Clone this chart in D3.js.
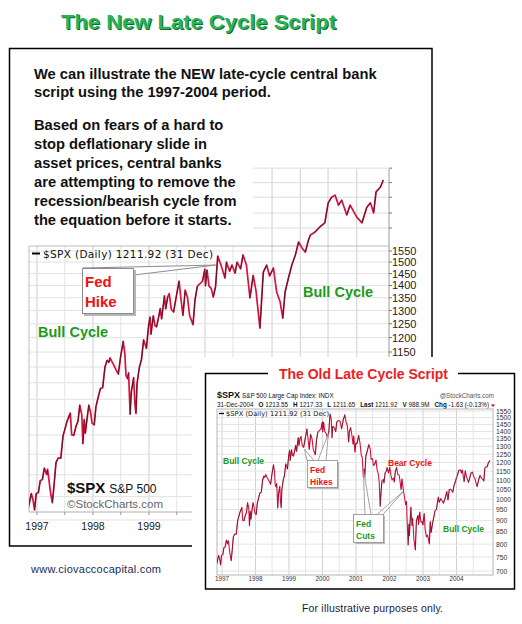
<!DOCTYPE html>
<html>
<head>
<meta charset="utf-8">
<script src="https://cdn.jsdelivr.net/npm/d3@7"></script>
<style>
  body { margin: 0; background: #fff; }
  text { font-family: "Liberation Sans", Arial, sans-serif; }
</style>
</head>
<body>
<svg id="chart" width="522" height="624"></svg>
<script>
// S&P 500 path, 1996-2004
const spxHistory = [
  ["1996-11-05",725],["1996-11-25",757],["1996-12-05",745],["1996-12-16",721],["1996-12-27",757],
  ["1997-01-10",759],["1997-01-22",786],["1997-02-05",789],["1997-02-18",816],["1997-03-05",801],["1997-03-11",813],["1997-03-31",757],["1997-04-11",737],["1997-04-22",775],["1997-05-05",830],["1997-05-20",841],["1997-06-05",840],["1997-06-20",898],["1997-07-03",917],["1997-07-15",936],["1997-08-06",960],["1997-08-15",900],["1997-08-29",899],["1997-09-12",923],["1997-09-25",937],["1997-10-07",983],["1997-10-20",955],["1997-10-27",877],["1997-11-05",942],["1997-11-12",905],["1997-11-25",950],["1997-12-05",983],["1997-12-16",963],["1997-12-26",932],
  ["1998-01-09",927],["1998-01-20",978],["1998-02-04",1006],["1998-02-18",1032],["1998-03-05",1035],["1998-03-20",1100],["1998-04-03",1122],["1998-04-14",1115],["1998-04-22",1130],["1998-05-01",1121],["1998-05-15",1108],["1998-06-01",1090],["1998-06-15",1077],["1998-06-30",1134],["1998-07-17",1187],["1998-07-27",1147],["1998-08-04",1073],["1998-08-14",1063],["1998-08-21",1081],["1998-08-31",957],["1998-09-08",1023],["1998-09-23",1066],["1998-10-01",986],["1998-10-08",959],["1998-10-15",1047],["1998-10-30",1099],["1998-11-13",1125],["1998-11-27",1192],["1998-12-07",1176],["1998-12-15",1162],["1998-12-29",1241],
  ["1999-01-08",1275],["1999-01-14",1212],["1999-01-29",1280],["1999-02-09",1243],["1999-02-19",1239],["1999-03-05",1275],["1999-03-15",1307],["1999-03-24",1268],["1999-04-12",1358],["1999-04-20",1306],["1999-05-03",1354],["1999-05-13",1367],["1999-05-26",1305],["1999-06-10",1294],["1999-06-22",1335],["1999-07-16",1418],["1999-07-29",1342],["1999-08-10",1281],["1999-08-25",1381],["1999-09-09",1351],["1999-09-23",1280],["1999-10-15",1247],["1999-10-28",1342],["1999-11-12",1396],["1999-11-23",1404],["1999-12-02",1409],["1999-12-16",1418],["1999-12-31",1469],
  ["2000-01-04",1399],["2000-01-14",1465],["2000-01-27",1398],["2000-02-11",1387],["2000-02-24",1353],["2000-03-10",1395],["2000-03-24",1527],["2000-04-06",1487],["2000-04-14",1357],["2000-04-21",1434],["2000-05-05",1432],["2000-05-24",1399],["2000-06-05",1467],["2000-06-20",1478],["2000-07-10",1475],["2000-07-28",1419],["2000-08-15",1484],["2000-09-01",1521],["2000-09-15",1466],["2000-09-29",1437],["2000-10-12",1329],["2000-10-20",1397],["2000-11-03",1427],["2000-11-15",1382],["2000-11-30",1315],["2000-12-07",1369],["2000-12-20",1264],["2000-12-29",1320],
  ["2001-01-12",1318],["2001-01-30",1373],["2001-02-14",1318],["2001-02-28",1240],["2001-03-09",1233],["2001-03-22",1117],["2001-03-30",1160],["2001-04-04",1103],["2001-04-18",1238],["2001-05-01",1266],["2001-05-21",1312],["2001-06-05",1283],["2001-06-14",1219],["2001-06-29",1224],["2001-07-10",1182],["2001-07-24",1191],["2001-08-07",1214],["2001-08-17",1161],["2001-08-31",1134],["2001-09-10",1092],["2001-09-21",966],["2001-10-01",1038],["2001-10-11",1097],["2001-10-26",1104],["2001-11-01",1084],["2001-11-15",1142],["2001-11-27",1149],["2001-12-05",1170],["2001-12-20",1140],
  ["2002-01-04",1172],["2002-01-16",1127],["2002-01-29",1100],["2002-02-12",1111],["2002-02-22",1090],["2002-03-05",1146],["2002-03-19",1170],["2002-04-02",1129],["2002-04-16",1128],["2002-04-30",1076],["2002-05-07",1050],["2002-05-17",1106],["2002-06-03",1040],["2002-06-14",1007],["2002-06-26",973],["2002-07-05",989],["2002-07-10",920],["2002-07-23",797],["2002-08-01",884],["2002-08-05",834],["2002-08-22",962],["2002-09-03",878],["2002-09-10",909],["2002-09-24",819],["2002-10-09",777],["2002-10-21",899],["2002-11-07",923],["2002-11-13",882],["2002-11-27",938],["2002-12-09",892],["2002-12-20",895],["2002-12-31",880],
  ["2003-01-14",931],["2003-01-24",861],["2003-02-07",829],["2003-02-20",837],["2003-03-11",801],["2003-03-21",895],["2003-03-31",848],["2003-04-14",885],["2003-04-30",917],["2003-05-12",945],["2003-05-27",951],["2003-06-17",1011],["2003-06-26",985],["2003-07-14",1003],["2003-07-31",990],["2003-08-11",980],["2003-08-28",1002],["2003-09-18",1039],["2003-09-30",996],["2003-10-14",1049],["2003-10-31",1051],["2003-11-21",1035],["2003-12-04",1069],["2003-12-19",1089],["2003-12-31",1112],
  ["2004-01-09",1121],["2004-01-26",1155],["2004-02-11",1157],["2004-02-24",1139],["2004-03-05",1156],["2004-03-24",1091],["2004-04-06",1151],["2004-04-19",1118],["2004-05-10",1087],["2004-05-25",1114],["2004-06-08",1140],["2004-06-23",1144],["2004-07-07",1118],["2004-07-20",1108],["2004-08-12",1064],["2004-08-31",1104],["2004-09-13",1125],["2004-09-28",1111],["2004-10-13",1104],["2004-10-25",1095],["2004-11-05",1167],["2004-11-16",1175],["2004-11-30",1174],["2004-12-13",1198],["2004-12-31",1212]
];

// the "new script": peak in March 2000, then a bull cycle instead of the bear
const newCycleStart = "2000-03-24";
const newCycleTail = [
  ["2000-04-14",1487],["2000-05-10",1431],["2000-05-20",1500],["2000-06-10",1460],["2000-06-25",1487],["2000-07-15",1452],["2000-07-28",1500],["2000-08-20",1470],["2000-09-05",1532],["2000-09-27",1487],["2000-10-20",1349],["2000-11-10",1442],["2000-11-28",1380],["2000-12-24",1234],
  ["2001-01-15",1456],["2001-02-06",1487],["2001-02-25",1440],["2001-03-22",1474],["2001-04-12",1373],["2001-05-05",1333],["2001-05-22",1271],["2001-06-06",1373],["2001-06-28",1431],["2001-07-20",1487],["2001-08-12",1532],["2001-09-02",1592],["2001-09-24",1564],["2001-10-16",1545],["2001-11-05",1600],["2001-11-18",1625],["2001-12-16",1638],
  ["2002-01-18",1664],["2002-02-20",1684],["2002-03-14",1787],["2002-04-06",1818],["2002-04-28",1828],["2002-05-20",1775],["2002-06-10",1801],["2002-07-13",1724],["2002-08-04",1775],["2002-09-16",1713],["2002-10-20",1684],["2002-11-20",1763],["2002-12-14",1787],
  ["2003-01-04",1735],["2003-01-20",1846],["2003-02-18",1873],["2003-03-08",1912]
];

// ticks and grids
const newYTicks = [1150, 1200, 1250, 1300, 1350, 1400, 1450, 1500, 1550];
const newGridValues = d3.range(700, 1551, 50);
const pastedGridValues = [1659, 1734, 1817, 1897, 1980];
const pastedGridDates = ["2001-03-13", "2001-09-13", "2002-03-13", "2002-09-16"];
const newYearLabels = ["1997", "1998", "1999"];
const oldYTicks = d3.range(700, 1551, 50);
const oldYearLabels = ["1997", "1998", "1999", "2000", "2001", "2002", "2003", "2004"];

const introLines = [
  "We can illustrate the NEW late-cycle central bank",
  "script using the 1997-2004 period."
];
const bodyLines = [
  "Based on fears of a hard to",
  "stop deflationary slide in",
  "asset prices, central banks",
  "are attempting to remove the",
  "recession/bearish cycle from",
  "the equation before it starts."
];

const parse = d3.timeParse("%Y-%m-%d");
const oldSeries = spxHistory.map(d => ({date: parse(d[0]), value: d[1]}));
const newSeries = oldSeries
  .filter(d => d.date <= parse(newCycleStart))
  .concat(newCycleTail.map(d => ({date: parse(d[0]), value: d[1]})));

const RED = "#d8123f";
const svg = d3.select("#chart");
svg.append("rect").attr("width", 522).attr("height", 624).attr("fill", "#fff");

// draw a line red, with thin black strokes over the up-moves
function drawPrice(g, data, x, y, w) {
  g.append("path")
    .datum(data)
    .attr("fill", "none")
    .attr("stroke", RED)
    .attr("stroke-width", w)
    .attr("stroke-linejoin", "round")
    .attr("d", d3.line().x(d => x(d.date)).y(d => y(d.value)));
  const ups = d3.pairs(data).filter(p => p[1].value > p[0].value * 1.01);
  g.selectAll("line.up")
    .data(ups)
    .enter()
    .append("line")
    .attr("class", "up")
    .attr("x1", p => x(p[0].date))
    .attr("y1", p => y(p[0].value))
    .attr("x2", p => x(p[1].date))
    .attr("y2", p => y(p[1].value))
    .attr("stroke", "#1a1a1a")
    .attr("stroke-width", w * 0.4);
}

// ---- title
const title = svg.append("g");
title.append("text")
  .attr("x", 62).attr("y", 30)
  .attr("textLength", 275).attr("lengthAdjust", "spacingAndGlyphs")
  .style("font-size", "21px").style("font-weight", "bold")
  .attr("fill", "#0f6e30")
  .text("The New Late Cycle Script");
title.append("text")
  .attr("x", 61).attr("y", 29)
  .attr("textLength", 275).attr("lengthAdjust", "spacingAndGlyphs")
  .style("font-size", "21px").style("font-weight", "bold")
  .attr("fill", "#2bb356")
  .text("The New Late Cycle Script");

// ---- main box
svg.append("rect")
  .attr("x", 9.5).attr("y", 48.5).attr("width", 422.5).attr("height", 497.5)
  .attr("fill", "none").attr("stroke", "#000").attr("stroke-width", 1.5);

svg.append("g").selectAll("text")
  .data(introLines).enter().append("text")
  .attr("x", 34).attr("y", (d, i) => 79 + i * 18)
  .style("font-size", "14.7px").style("font-weight", "bold").attr("fill", "#111")
  .text(d => d);
svg.append("g").selectAll("text")
  .data(bodyLines).enter().append("text")
  .attr("x", 34).attr("y", (d, i) => 130 + i * 19)
  .style("font-size", "14.7px").style("font-weight", "bold").attr("fill", "#111")
  .text(d => d);

// ---- new late cycle chart
const xNew = d3.scaleTime().domain([parse("1997-01-01"), parse("2000-01-01")]).range([37, 205]);
const yNew = d3.scaleLog().domain([1150, 1550]).range([352, 251]);
const nc = svg.append("g");
const plotL = 29, plotR = 389, plotB = 512, plotT = 246, pasteL = 253, pasteT = 169;

// half-year grid on the left part
const halfYears = d3.timeMonth.every(6).range(parse("1997-01-01"), parse("2000-07-02"));
nc.append("g").selectAll("line")
  .data(halfYears).enter().append("line")
  .attr("x1", d => xNew(d)).attr("x2", d => xNew(d))
  .attr("y1", plotT).attr("y2", plotB)
  .attr("stroke", d => d.getMonth() === 0 ? "#cfcfcf" : "#e4e4e4");
// pasted extension grid
nc.append("g").selectAll("line")
  .data(pastedGridDates).enter().append("line")
  .attr("x1", d => xNew(parse(d))).attr("x2", d => xNew(parse(d)))
  .attr("y1", pasteT).attr("y2", plotB)
  .attr("stroke", "#cfcfcf");
nc.append("g").selectAll("line")
  .data(newGridValues).enter().append("line")
  .attr("x1", plotL).attr("x2", plotR)
  .attr("y1", d => yNew(d)).attr("y2", d => yNew(d))
  .attr("stroke", "#e2e2e2");
nc.append("g").selectAll("line")
  .data(pastedGridValues).enter().append("line")
  .attr("x1", pasteL).attr("x2", plotR)
  .attr("y1", d => yNew(d)).attr("y2", d => yNew(d))
  .attr("stroke", "#dcdcdc");

// frame
nc.append("path")
  .attr("d", `M${plotL},${plotB}V${plotT}H${plotR}`)
  .attr("fill", "none").attr("stroke", "#bdbdbd");
nc.append("line")
  .attr("x1", plotL).attr("x2", plotR).attr("y1", plotB).attr("y2", plotB)
  .attr("stroke", "#b0b0b0");
nc.append("line")
  .attr("x1", plotR).attr("x2", plotR).attr("y1", pasteT).attr("y2", plotB)
  .attr("stroke", "#9a9a9a");
nc.append("g").selectAll("line")
  .data(newYTicks.concat(pastedGridValues)).enter().append("line")
  .attr("x1", plotR).attr("x2", plotR + 3)
  .attr("y1", d => yNew(d)).attr("y2", d => yNew(d))
  .attr("stroke", "#777");
nc.append("g").selectAll("text")
  .data(newYTicks).enter().append("text")
  .attr("x", plotR + 3).attr("y", d => yNew(d) + 4)
  .style("font-size", "11px").attr("fill", "#222")
  .text(d => d);

// x labels
nc.append("g").selectAll("text")
  .data(newYearLabels).enter().append("text")
  .attr("x", d => xNew(parse(d + "-01-01"))).attr("y", 530)
  .attr("text-anchor", "middle")
  .style("font-size", "10.5px").attr("fill", "#222")
  .text(d => d);
nc.append("g").selectAll("line")
  .data(halfYears).enter().append("line")
  .attr("x1", d => xNew(d)).attr("x2", d => xNew(d))
  .attr("y1", plotB).attr("y2", plotB + 3)
  .attr("stroke", "#999");

// legend
nc.append("line").attr("x1", 32).attr("x2", 40).attr("y1", 253.5).attr("y2", 253.5)
  .attr("stroke", "#000").attr("stroke-width", 2);
nc.append("text").attr("x", 43).attr("y", 257.5)
  .style("font-family", "'DejaVu Sans', sans-serif").style("font-size", "10.5px")
  .attr("fill", "#111").attr("textLength", 170)
  .text("$SPX (Daily) 1211.92 (31 Dec)");

// price line
nc.append("clipPath").attr("id", "clipNew")
  .append("path")
  .attr("d", `M${plotL},${plotB}V${plotT}H${pasteL}V${pasteT}H${plotR}V${plotB}Z`);
const newLine = nc.append("g").attr("clip-path", "url(#clipNew)");
drawPrice(newLine, newSeries, xNew, yNew, 1.7);

// Fed Hike callout
const peak = newSeries.find(d => d.date.getTime() === parse(newCycleStart).getTime());
const tipX = xNew(peak.date) - 2, tipY = yNew(peak.value) + 9;
nc.append("path")
  .attr("d", `M83,268L${tipX},${tipY}L134,275Z`)
  .attr("fill", "#fff").attr("stroke", "#8c8c8c");
nc.append("rect").attr("x", 84).attr("y", 270).attr("width", 52).attr("height", 46).attr("fill", "#b5b5b5");
nc.append("rect").attr("x", 82.5).attr("y", 268.5).attr("width", 51).attr("height", 45)
  .attr("fill", "#fff").attr("stroke", "#8c8c8c");
nc.append("text").attr("x", 85).attr("y", 287)
  .style("font-size", "15px").style("font-weight", "bold").attr("fill", "#ee1111").text("Fed");
nc.append("text").attr("x", 85).attr("y", 307)
  .style("font-size", "15px").style("font-weight", "bold").attr("fill", "#ee1111").text("Hike");

nc.append("text").attr("x", 38).attr("y", 337)
  .style("font-size", "14.5px").style("font-weight", "bold").attr("fill", "#1a9a1a").text("Bull Cycle");
nc.append("text").attr("x", 303).attr("y", 297)
  .style("font-size", "14.5px").style("font-weight", "bold").attr("fill", "#1a9a1a").text("Bull Cycle");

const brand = nc.append("text").attr("x", 67).attr("y", 493).attr("fill", "#111");
brand.append("tspan").style("font-size", "15px").style("font-weight", "bold").text("$SPX");
brand.append("tspan").attr("dx", 4).style("font-size", "12px").text("S&P 500");
nc.append("text").attr("x", 67).attr("y", 508)
  .style("font-size", "11.5px").attr("fill", "#666").text("\u00a9StockCharts.com");

// ---- old late cycle inset
const oc = svg.append("g");
oc.append("rect").attr("x", 192).attr("y", 357).attr("width", 330).attr("height", 240).attr("fill", "#fff");
oc.append("rect").attr("x", 205.5).attr("y", 373.5).attr("width", 309).attr("height", 215.5)
  .attr("fill", "none").attr("stroke", "#000").attr("stroke-width", 1.5);
oc.append("rect").attr("x", 268).attr("y", 365).attr("width", 190).attr("height", 16).attr("fill", "#fff");
oc.append("text").attr("x", 279).attr("y", 379)
  .attr("textLength", 169).attr("lengthAdjust", "spacingAndGlyphs")
  .style("font-size", "15.5px").style("font-weight", "bold").attr("fill", "#ec1c24")
  .text("The Old Late Cycle Script");

const xOld = d3.scaleTime().domain([parse("1997-01-01"), parse("2004-01-01")]).range([222, 456.5]);
const yOld = d3.scaleLog().domain([700, 1550]).range([571, 411]);
const oL = 217, oR = 493, oT = 409, oB = 575;

const head = oc.append("text").attr("x", oL).attr("y", 398).attr("fill", "#111");
head.append("tspan").style("font-size", "9px").style("font-weight", "bold").text("$SPX");
head.append("tspan").attr("dx", 2).style("font-size", "6.3px").text("S&P 500 Large Cap Index: INDX");
oc.append("text").attr("x", 494).attr("y", 398).attr("text-anchor", "end")
  .style("font-size", "6.3px").attr("fill", "#555").text("@StockCharts.com");
const stats = [["", "31-Dec-2004"], ["O", "1213.55"], ["H", "1217.33"], ["L", "1211.65"],
  ["Last", "1211.92"], ["V", "988.9M"], ["Chg", "-1.63 (-0.13%)"]];
const sLine = oc.append("text").attr("x", oL).attr("y", 407)
  .attr("textLength", 272).attr("lengthAdjust", "spacingAndGlyphs")
  .style("font-size", "6.3px").attr("fill", "#111");
stats.forEach((s, i) => {
  if (s[0]) sLine.append("tspan").attr("dx", i ? 5 : 0).style("font-weight", "bold").text(s[0] + " ");
  sLine.append("tspan").text(s[1]);
});
oc.append("path").attr("d", "M491,404.5L495,404.5L493,407Z").attr("fill", "#c00");

const oHalf = d3.timeMonth.every(6).range(parse("1997-01-01"), parse("2005-01-01"));
oc.append("g").selectAll("line")
  .data(oHalf).enter().append("line")
  .attr("x1", d => xOld(d)).attr("x2", d => xOld(d))
  .attr("y1", oT).attr("y2", oB)
  .attr("stroke", d => d.getMonth() === 0 ? "#d0d0d0" : "#e6e6e6");
oc.append("g").selectAll("line")
  .data(oldYTicks).enter().append("line")
  .attr("x1", oL).attr("x2", oR)
  .attr("y1", d => yOld(d)).attr("y2", d => yOld(d))
  .attr("stroke", "#e4e4e4");
oc.append("rect").attr("x", oL).attr("y", oT).attr("width", oR - oL).attr("height", oB - oT)
  .attr("fill", "none").attr("stroke", "#b5b5b5");
oc.append("g").selectAll("text")
  .data(oldYTicks).enter().append("text")
  .attr("x", oR + 3).attr("y", d => yOld(d) + 2.5)
  .style("font-size", "6.8px").attr("fill", "#333").text(d => d);
oc.append("g").selectAll("text")
  .data(oldYearLabels).enter().append("text")
  .attr("x", d => xOld(parse(d + "-01-01"))).attr("y", 581)
  .attr("text-anchor", "middle")
  .style("font-size", "6.3px").attr("fill", "#333").text(d => d);

oc.append("line").attr("x1", 219).attr("x2", 224).attr("y1", 413.5).attr("y2", 413.5)
  .attr("stroke", "#000").attr("stroke-width", 1.3);
oc.append("text").attr("x", 226).attr("y", 416)
  .style("font-family", "'DejaVu Sans', sans-serif").style("font-size", "6.7px")
  .attr("fill", "#111").attr("textLength", 103)
  .text("$SPX (Daily) 1211.92 (31 Dec)");

oc.append("clipPath").attr("id", "clipOld")
  .append("rect").attr("x", oL).attr("y", oT).attr("width", oR - oL).attr("height", oB - oT);
drawPrice(oc.append("g").attr("clip-path", "url(#clipOld)"), oldSeries, xOld, yOld, 1.1);

// callouts in the inset
function wedge(g, bx1, bx2, by, tx, ty) {
  g.append("path").attr("d", `M${bx1},${by}L${tx},${ty}L${bx2},${by}`)
    .attr("fill", "#fff").attr("stroke", "#8c8c8c").attr("stroke-width", 0.8);
}
function callBox(g, x, y, w, h, lines, color) {
  g.append("rect").attr("x", x + 1.5).attr("y", y + 1.5).attr("width", w).attr("height", h).attr("fill", "#bbb");
  g.append("rect").attr("x", x).attr("y", y).attr("width", w).attr("height", h)
    .attr("fill", "#fff").attr("stroke", "#8c8c8c").attr("stroke-width", 0.8);
  lines.forEach((t, i) => g.append("text").attr("x", x + 2.5).attr("y", y + 12 + i * 12)
    .style("font-size", "8.5px").style("font-weight", "bold").attr("fill", color).text(t));
}
wedge(oc, 307, 314, 460.5, xOld(parse("1999-06-20")), yOld(1280));
wedge(oc, 318, 326, 460.5, xOld(parse("2000-03-05")), yOld(1385));
callBox(oc, 307.5, 460.5, 30, 27, ["Fed", "Hikes"], "#ee1111");
wedge(oc, 365, 371, 514.5, xOld(parse("2001-03-20")), yOld(1165));
wedge(oc, 377, 383, 514.5, xOld(parse("2002-06-01")), yOld(1040));
callBox(oc, 353.5, 514.5, 30, 28, ["Fed", "Cuts"], "#1a9a1a");

oc.append("text").attr("x", 223).attr("y", 464)
  .style("font-size", "8.5px").style("font-weight", "bold").attr("fill", "#1a9a1a").text("Bull Cycle");
oc.append("text").attr("x", 388).attr("y", 466)
  .style("font-size", "8.5px").style("font-weight", "bold").attr("fill", "#ee1111").text("Bear Cycle");
oc.append("text").attr("x", 443).attr("y", 532)
  .style("font-size", "8.5px").style("font-weight", "bold").attr("fill", "#1a9a1a").text("Bull Cycle");

// ---- footer
svg.append("text").attr("x", 31).attr("y", 573)
  .attr("textLength", 130)
  .style("font-size", "11px").attr("fill", "#1d2a57").text("www.ciovaccocapital.com");
svg.append("text").attr("x", 302).attr("y", 612)
  .attr("textLength", 141)
  .style("font-size", "10.5px").attr("fill", "#1a1a3a").text("For illustrative purposes only.");
</script>
</body>
</html>
